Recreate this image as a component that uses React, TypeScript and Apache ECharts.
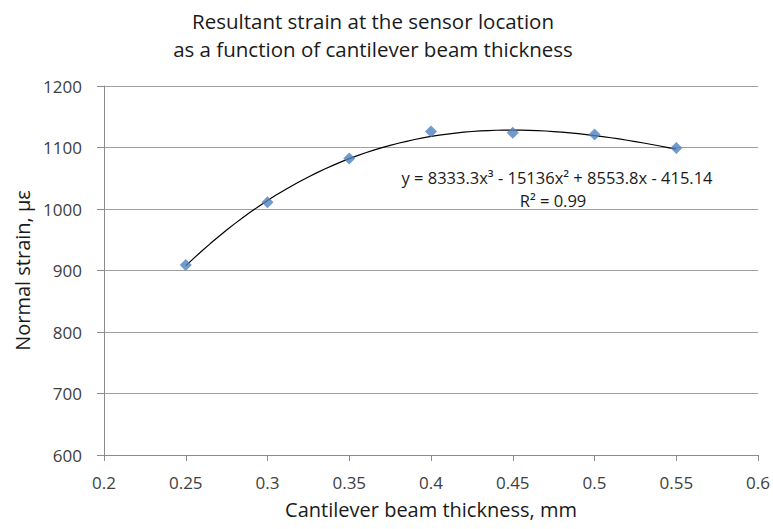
import React, { useEffect, useRef } from "react";
import * as echarts from "echarts";

const thickness = [0.25, 0.3, 0.35, 0.4, 0.45, 0.5, 0.55];
const strain = [909, 1011, 1082, 1126, 1124, 1121, 1099];
// Trendline coefficients shown in the chart (cubic: a x^3 + b x^2 + c x + d)
const trendCoefficients = [8333.3, -15136, 8553.8, -415.14];
const trendRange = [0.25, 0.55];
const titleLines = ["Resultant strain at the sensor location", "as a function of cantilever beam thickness"];
const equationText = "y = 8333.3x³ - 15136x² + 8553.8x - 415.14";
const r2Text = "R² = 0.99";

const FONT = "'Open Sans', 'Noto Sans', sans-serif";

export default function App() {
  const ref = useRef<HTMLDivElement>(null);
  useEffect(() => {
    if (!ref.current) return;
    const chart = echarts.init(ref.current, null, { renderer: "svg" });
    const [a, b, c, d] = trendCoefficients;
    const trend: number[][] = [];
    const steps = 60;
    for (let i = 0; i <= steps; i++) {
      const x = trendRange[0] + ((trendRange[1] - trendRange[0]) * i) / steps;
      trend.push([x, a * x * x * x + b * x * x + c * x + d]);
    }
    chart.setOption({
      animation: false,
      backgroundColor: "#ffffff",
      title: {
        text: titleLines.join("\n"),
        left: 368,
        textAlign: "center",
        top: 2,
        textStyle: { fontFamily: FONT, fontSize: 20.5, fontWeight: "normal", color: "#1a1a1a", lineHeight: 28 },
      },
      grid: { left: 104, right: 14, top: 86, bottom: 74 },
      xAxis: {
        type: "value",
        min: 0.2,
        max: 0.6,
        interval: 0.05,
        name: "Cantilever beam thickness, mm",
        nameLocation: "middle",
        nameGap: 44,
        nameTextStyle: { fontFamily: FONT, fontSize: 20, color: "#1a1a1a" },
        axisLine: { show: true, lineStyle: { color: "#8c8c8c" } },
        axisTick: { show: true, length: 6, lineStyle: { color: "#8c8c8c" } },
        axisLabel: {
          fontFamily: FONT,
          fontSize: 17,
          color: "#404040",
          margin: 19,
          formatter: (v: number) => String(parseFloat(v.toFixed(2))),
        },
        splitLine: { show: false },
      },
      yAxis: {
        type: "value",
        min: 600,
        max: 1200,
        interval: 100,
        name: "Normal strain, µε",
        nameLocation: "middle",
        nameGap: 71,
        nameTextStyle: { fontFamily: FONT, fontSize: 20, color: "#1a1a1a" },
        axisLine: { show: true, lineStyle: { color: "#8c8c8c" } },
        axisTick: { show: true, length: 7, lineStyle: { color: "#8c8c8c" } },
        axisLabel: {
          fontFamily: FONT,
          fontSize: 17,
          color: "#404040",
          margin: 22,
          formatter: (v: number) => String(v),
        },
        splitLine: { show: true, lineStyle: { color: "#a0a0a0", width: 1 } },
      },
      series: [
        {
          type: "line",
          data: trend,
          showSymbol: false,
          symbol: "none",
          lineStyle: { color: "#000000", width: 1.2 },
          z: 2,
          silent: true,
        },
        {
          type: "scatter",
          data: thickness.map((x, i) => [x, strain[i]]),
          symbol: "diamond",
          symbolSize: [12, 12],
          itemStyle: { color: "#4f81bd" },
          z: 3,
        },
      ],
      graphic: [
        {
          type: "text",
          x: 557,
          y: 177,
          style: {
            text: equationText,
            fontFamily: FONT,
            fontSize: 16.5,
            fill: "#1a1a1a",
            align: "center",
            verticalAlign: "middle",
          },
        },
        {
          type: "text",
          x: 553,
          y: 200,
          style: {
            text: r2Text,
            fontFamily: FONT,
            fontSize: 16.5,
            fill: "#1a1a1a",
            align: "center",
            verticalAlign: "middle",
          },
        },
      ],
    });
    return () => chart.dispose();
  }, []);
  return <div ref={ref} style={{ width: 773, height: 529, position: "absolute", left: 0, top: 0 }} />;
}
